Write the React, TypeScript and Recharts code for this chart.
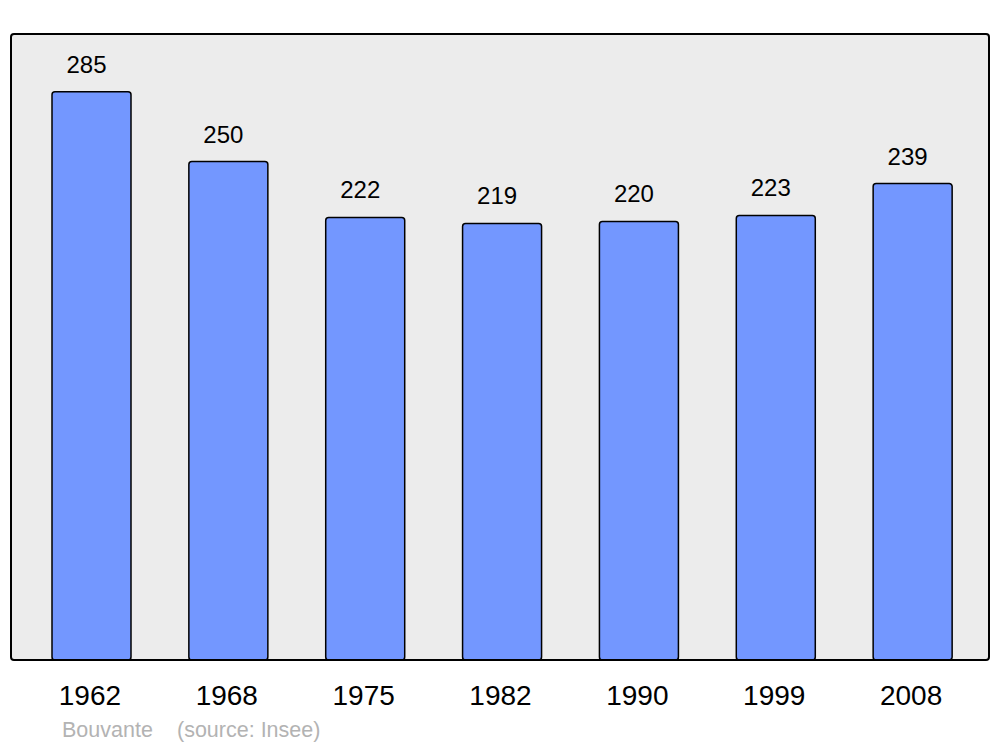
import { BarChart, Bar, XAxis, YAxis, CartesianGrid, LabelList } from 'recharts'

const years = ['1962', '1968', '1975', '1982', '1990', '1999', '2008']
const population = [285, 250, 222, 219, 220, 223, 239]
const commune = 'Bouvante'
const source = '(source: Insee)'

const data = years.map((year, i) => ({ year, pop: population[i] }))

const FONT = '"Liberation Sans", Arial, sans-serif'

function YearTick({ x, y, payload }: any) {
  return (
    <text x={x - 1.5} y={y + 37} textAnchor="middle" fontSize={28} fontFamily={FONT} fill="#000">
      {payload.value}
    </text>
  )
}

const footStyle = {
  position: 'absolute' as const,
  top: 720,
  fontFamily: FONT,
  fontSize: 21.5,
  lineHeight: '21px',
  color: '#b3b3b3',
  whiteSpace: 'pre' as const,
}

export default function App() {
  return (
    <div style={{ position: 'absolute', left: 0, top: 0, width: 1000, height: 747, background: '#fff' }}>
      <BarChart
        width={1000}
        height={747}
        data={data}
        margin={{ top: 34, right: 11, left: 11, bottom: 0 }}
      >
        <CartesianGrid horizontal={false} vertical={false} fill="#ececec" />
        <XAxis
          dataKey="year"
          axisLine={false}
          tickLine={false}
          height={87}
          padding={{ left: 12, right: 8 }}
          tick={<YearTick />}
          interval={0}
        />
        <YAxis hide domain={[0, 314]} />
        <Bar
          dataKey="pop"
          fill="#7397ff"
          stroke="#000"
          strokeWidth={1.5}
          radius={3}
          barSize={79}
          isAnimationActive={false}
        >
          <LabelList
            dataKey="pop"
            position="top"
            offset={19}
            dx={-5}
            fontSize={24}
            fontFamily={FONT}
            fill="#000"
          />
        </Bar>
      </BarChart>
      <div
        style={{
          position: 'absolute',
          left: 10,
          top: 33,
          width: 980,
          height: 628,
          boxSizing: 'border-box',
          border: '2.5px solid #000',
          borderRadius: 4,
          pointerEvents: 'none',
        }}
      />
      <div style={{ ...footStyle, left: 62 }}>{commune}</div>
      <div style={{ ...footStyle, left: 177 }}>{source}</div>
    </div>
  )
}
